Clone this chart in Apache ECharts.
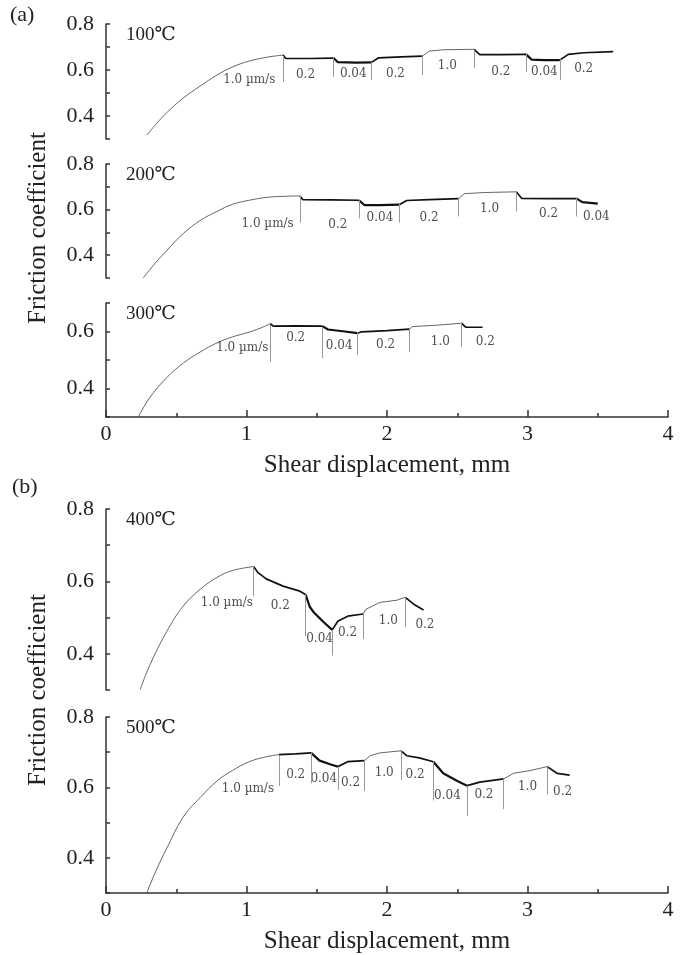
<!DOCTYPE html>
<html><head><meta charset="utf-8">
<script src="https://cdn.jsdelivr.net/npm/echarts@6/dist/echarts.min.js"></script>
<style>html,body{margin:0;padding:0;background:#fff}#c{width:687px;height:955px}</style>
</head><body><div id="c"></div>
<script>
// ---------- 100 °C ----------
const x100 = [0.29,0.36,0.43,0.55,0.67,0.79,0.90,1.02,1.15,1.26,1.28,1.45,1.62,1.65,1.78,1.89,1.94,2.10,2.25,2.30,2.40,2.62,2.66,2.80,2.99,3.03,3.12,3.23,3.29,3.40,3.61];
const y100 = [0.317,0.367,0.413,0.478,0.530,0.578,0.613,0.639,0.656,0.665,0.650,0.650,0.652,0.634,0.632,0.633,0.653,0.657,0.660,0.682,0.688,0.690,0.667,0.667,0.668,0.645,0.643,0.643,0.668,0.675,0.680];
const bounds100 = [1.26,1.62,1.89,2.25,2.62,2.99,3.23];
const markTop100 = [0.661,0.652,0.635,0.665,0.687,0.674,0.652];
const markBot100 = [0.548,0.570,0.557,0.578,0.609,0.591,0.557];
const speeds100 = ['1.0 µm/s','0.2','0.04','0.2','1.0','0.2','0.04','0.2'];
const labX100 = [1.02,1.42,1.76,2.06,2.43,2.81,3.12,3.40];
const labY100 = [0.557,0.578,0.583,0.583,0.617,0.591,0.591,0.604];

// ---------- 200 °C ----------
const x200 = [0.265,0.35,0.43,0.55,0.67,0.79,0.90,1.02,1.15,1.26,1.38,1.40,1.60,1.80,1.84,1.95,2.09,2.14,2.30,2.51,2.55,2.70,2.92,2.96,3.15,3.35,3.39,3.50];
const y200 = [0.300,0.365,0.419,0.495,0.552,0.592,0.623,0.641,0.654,0.658,0.660,0.644,0.643,0.641,0.620,0.620,0.622,0.640,0.644,0.648,0.670,0.675,0.678,0.649,0.648,0.648,0.633,0.626];
const bounds200 = [1.38,1.80,2.09,2.51,2.92,3.35];
const markTop200 = [0.663,0.641,0.627,0.650,0.676,0.654];
const markBot200 = [0.543,0.561,0.543,0.570,0.592,0.570];
const speeds200 = ['1.0 µm/s','0.2','0.04','0.2','1.0','0.2','0.04'];
const labX200 = [1.15,1.65,1.95,2.30,2.73,3.15,3.49];
const labY200 = [0.539,0.532,0.565,0.565,0.601,0.583,0.570];

// ---------- 300 °C ----------
const x300 = [0.23,0.31,0.43,0.55,0.67,0.79,0.90,1.02,1.10,1.17,1.19,1.35,1.54,1.58,1.70,1.79,1.82,2.00,2.16,2.18,2.35,2.53,2.56,2.68];
const y300 = [0.300,0.367,0.437,0.489,0.528,0.560,0.581,0.598,0.612,0.628,0.619,0.620,0.619,0.607,0.600,0.594,0.599,0.603,0.608,0.617,0.622,0.629,0.615,0.615];
const bounds300 = [1.17,1.54,1.79,2.16,2.53];
const markTop300 = [0.623,0.616,0.598,0.608,0.630];
const markBot300 = [0.493,0.507,0.518,0.528,0.546];
const speeds300 = ['1.0 µm/s','0.2','0.04','0.2','1.0','0.2'];
const labX300 = [0.97,1.35,1.66,1.99,2.38,2.70];
const labY300 = [0.542,0.577,0.549,0.553,0.563,0.563];

// ---------- 400 °C ----------
const x400 = [0.242,0.31,0.43,0.55,0.67,0.79,0.90,1.05,1.08,1.14,1.26,1.38,1.42,1.45,1.48,1.55,1.61,1.65,1.72,1.83,1.85,1.95,2.07,2.13,2.19,2.26];
const y400 = [0.300,0.367,0.460,0.532,0.578,0.611,0.630,0.641,0.625,0.607,0.587,0.573,0.564,0.530,0.514,0.487,0.466,0.490,0.504,0.510,0.523,0.542,0.548,0.556,0.537,0.521];
const bounds400 = [1.05,1.42,1.61,1.83,2.13];
const markTop400 = [0.641,0.565,0.466,0.510,0.556];
const markBot400 = [0.559,0.449,0.395,0.441,0.474];
const speeds400 = ['1.0 µm/s','0.2','0.04','0.2','1.0','0.2'];
const labX400 = [0.86,1.24,1.52,1.72,2.01,2.27];
const labY400 = [0.542,0.532,0.441,0.458,0.490,0.479];

// ---------- 500 °C ----------
const x500 = [0.29,0.36,0.43,0.55,0.67,0.79,0.90,1.02,1.14,1.23,1.35,1.46,1.52,1.60,1.65,1.72,1.84,1.88,1.95,2.10,2.14,2.23,2.33,2.40,2.50,2.57,2.66,2.83,2.90,3.02,3.14,3.21,3.30];
const y500 = [0.300,0.367,0.425,0.516,0.571,0.618,0.648,0.673,0.687,0.693,0.695,0.698,0.676,0.665,0.659,0.673,0.676,0.690,0.698,0.704,0.690,0.684,0.673,0.640,0.618,0.605,0.615,0.624,0.640,0.648,0.659,0.640,0.635];
const bounds500 = [1.23,1.46,1.65,1.84,2.10,2.33,2.57,2.83,3.14];
const markTop500 = [0.690,0.698,0.659,0.676,0.704,0.673,0.605,0.624,0.659];
const markBot500 = [0.604,0.612,0.593,0.590,0.621,0.563,0.519,0.538,0.580];
const speeds500 = ['1.0 µm/s','0.2','0.04','0.2','1.0','0.2','0.04','0.2','1.0','0.2'];
const labX500 = [1.01,1.35,1.55,1.74,1.98,2.20,2.43,2.69,3.00,3.25];
const labY500 = [0.596,0.635,0.624,0.613,0.640,0.635,0.577,0.580,0.602,0.588];

const temps = ['100℃','200℃','300℃','400℃','500℃'];
const yMins = [0.3,0.3,0.3,0.3,0.3];
const yMaxs = [0.8,0.8,0.7,0.8,0.8];
const xTickLabels = ['0','1','2','3','4'];

const panels = [
  {x:x100,y:y100,b:bounds100,mt:markTop100,mb:markBot100,s:speeds100,lx:labX100,ly:labY100},
  {x:x200,y:y200,b:bounds200,mt:markTop200,mb:markBot200,s:speeds200,lx:labX200,ly:labY200},
  {x:x300,y:y300,b:bounds300,mt:markTop300,mb:markBot300,s:speeds300,lx:labX300,ly:labY300},
  {x:x400,y:y400,b:bounds400,mt:markTop400,mb:markBot400,s:speeds400,lx:labX400,ly:labY400},
  {x:x500,y:y500,b:bounds500,mt:markTop500,mb:markBot500,s:speeds500,lx:labX500,ly:labY500}
];

const gridBoxes = [[24,115],[164,114],[303,114],[509,181],[717,182]];
const SERIF = 'Liberation Serif';
const AX = '#333';

const grids = gridBoxes.map(g => ({left:106, width:562, top:g[0], height:g[1]}));
const xAxes = gridBoxes.map((g,i) => {
  const shown = (i === 2 || i === 4);
  return {
    type:'value', gridIndex:i, min:0, max:4, interval:1, show: shown,
    name: shown ? 'Shear displacement, mm' : '', nameLocation:'middle', nameGap:36,
    nameTextStyle:{fontFamily:SERIF, fontSize:25, color:'#222'},
    axisLine:{show:true, onZero:false, lineStyle:{color:AX, width:1.5}},
    axisTick:{show:true, inside:true, length:7, lineStyle:{color:AX, width:1.5}},
    minorTick:{show:true, splitNumber:2, length:4, lineStyle:{color:AX, width:1.5}},
    axisLabel:{fontFamily:SERIF, fontSize:22, color:'#222', margin:6,
      formatter: v => xTickLabels[Math.round(v)] },
    splitLine:{show:false}
  };
});
const yAxes = gridBoxes.map((g,i) => ({
  type:'value', gridIndex:i, min:yMins[i], max:yMaxs[i], interval:0.1,
  axisLine:{show:true, onZero:false, lineStyle:{color:AX, width:1.5}},
  axisTick:{show:true, inside:true, length:4, lineStyle:{color:AX, width:1.5}},
  axisLabel:{fontFamily:SERIF, fontSize:22, color:'#222', margin:12,
    formatter: v => { const k = Math.round(v*10); return (k===4||k===6||k===8) ? (k/10).toFixed(1) : ''; } },
  splitLine:{show:false}
}));

function segStyle(sp){
  if (sp.startsWith('1.0')) return {color:'#555', width:0.9};
  if (sp === '0.2') return {color:'#111', width:1.7};
  return {color:'#111', width:2.2};
}

const series = [];
panels.forEach((p,gi) => {
  const nSeg = p.b.length + 1;
  for (let s=0; s<nSeg; s++){
    const lo = s===0 ? -1 : p.b[s-1];
    const hi = s===p.b.length ? 99 : p.b[s];
    const data = [];
    for (let k=0;k<p.x.length;k++){
      if (p.x[k] >= lo-1e-9 && p.x[k] <= hi+1e-9) data.push([p.x[k], p.y[k]]);
    }
    series.push({type:'line', xAxisIndex:gi, yAxisIndex:gi, data, showSymbol:false,
      smooth: s===0 ? 0.4 : false, lineStyle: segStyle(p.s[s]), silent:true, animation:false, z:3});
  }
  series.push({
    type:'scatter', xAxisIndex:gi, yAxisIndex:gi, symbolSize:1,
    itemStyle:{color:'rgba(0,0,0,0)'}, silent:true, animation:false,
    data: p.s.map((t,k) => [p.lx[k], p.ly[k], t]),
    label:{show:true, position:'inside', formatter: q => q.data[2],
      fontFamily:'DejaVu Serif', fontSize:12, color:'#222'},
    markLine:{silent:true, symbol:['none','none'], animation:false,
      lineStyle:{color:'#999', width:1, type:'solid'}, label:{show:false},
      data: p.b.map((bx,k) => [{coord:[bx, p.mt[k]]},{coord:[bx, p.mb[k]]}])}
  });
});

const graphic = [
  {type:'text', left:10, top:4, style:{text:'(a)', font:'22px "Liberation Serif"', fill:'#222'}},
  {type:'text', left:12, top:476, style:{text:'(b)', font:'22px "Liberation Serif"', fill:'#222'}},
  {type:'text', x:38, y:228, rotation:Math.PI/2, style:{text:'Friction coefficient', font:'25px "Liberation Serif"', fill:'#222', align:'center', verticalAlign:'middle'}},
  {type:'text', x:38, y:690, rotation:Math.PI/2, style:{text:'Friction coefficient', font:'25px "Liberation Serif"', fill:'#222', align:'center', verticalAlign:'middle'}}
].concat(temps.map((t,i) => ({type:'text', left:126, top:gridBoxes[i][0]+2, style:{text:t, font:'19px "Liberation Serif", "DejaVu Serif"', fill:'#222'}})));

const chart = echarts.init(document.getElementById('c'), null, {renderer:'canvas'});
chart.setOption({animation:false, backgroundColor:'#fff', grid:grids, xAxis:xAxes, yAxis:yAxes, series, graphic});
</script></body></html>
